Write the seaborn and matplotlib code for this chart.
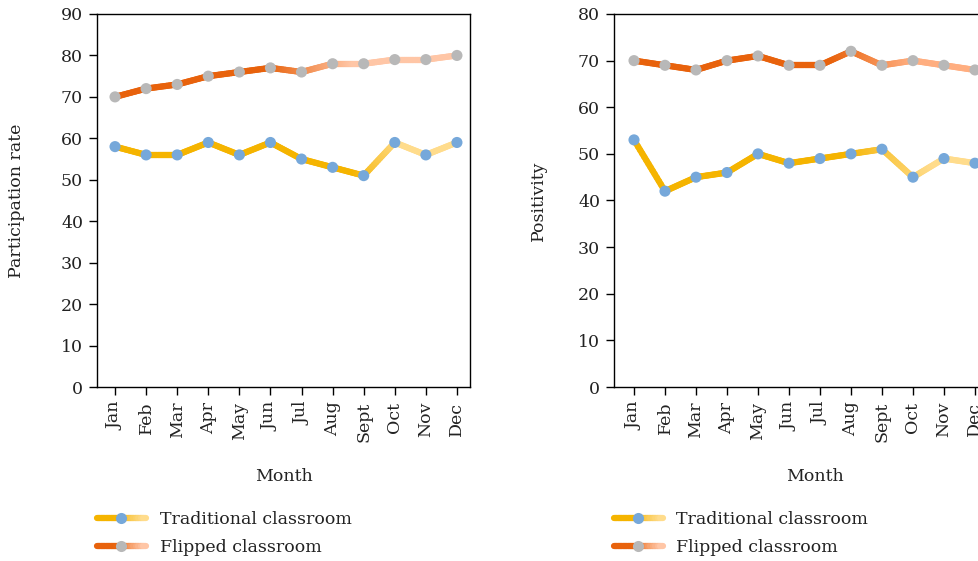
import numpy as np
import pandas as pd
import seaborn as sns
import matplotlib.pyplot as plt
from matplotlib.collections import LineCollection
from matplotlib.colors import to_rgb
from matplotlib.legend_handler import HandlerBase
from matplotlib.lines import Line2D

# data
months = ["Jan", "Feb", "Mar", "Apr", "May", "Jun", "Jul", "Aug", "Sept", "Oct", "Nov", "Dec"]
part_traditional = [58, 56, 56, 59, 56, 59, 55, 53, 51, 59, 56, 59]
part_flipped = [70, 72, 73, 75, 76, 77, 76, 78, 78, 79, 79, 80]
pos_traditional = [53, 42, 45, 46, 50, 48, 49, 50, 51, 45, 49, 48]
pos_flipped = [70, 69, 68, 70, 71, 69, 69, 72, 69, 70, 69, 68]
series_names = ["Traditional classroom", "Flipped classroom"]

TRAD = ("#F5B400", "#FFDC8C", "#76A8DA")
FLIP = ("#E8620C", "#FFC6A6", "#B8B8B8")
LW = 4.5
MS = 8
FS = 12.5


def mix(c0, c1, t):
    a, b = np.array(to_rgb(c0)), np.array(to_rgb(c1))
    return tuple(a + (b - a) * min(max(t, 0), 1))


def gradient_line(ax, x, y, c0, c1, t0, t1):
    # split the line into small pieces so the colour can fade along x
    segs, cols = [], []
    for i in range(len(x) - 1):
        xs = np.linspace(x[i], x[i + 1], 16)
        ys = np.linspace(y[i], y[i + 1], 16)
        for j in range(15):
            segs.append([(xs[j], ys[j]), (xs[j + 1], ys[j + 1])])
            t = ((xs[j] + xs[j + 1]) / 2 / (len(x) - 1) - t0) / (t1 - t0)
            cols.append(mix(c0, c1, t))
    lc = LineCollection(segs, colors=cols, linewidths=LW, capstyle="round", zorder=2)
    ax.add_collection(lc)


class GradHandler(HandlerBase):
    def __init__(self, c0, c1, mc):
        super().__init__()
        self.c0, self.c1, self.mc = c0, c1, mc

    def create_artists(self, legend, orig_handle, xdescent, ydescent, width, height, fontsize, trans):
        n = 20
        xs = np.linspace(0, width, n + 1) - xdescent
        yc = height / 2 - ydescent
        segs = [[(xs[i], yc), (xs[i + 1], yc)] for i in range(n)]
        cols = [mix(self.c0, self.c1, (i / (n - 1) - 0.4) / 0.6) for i in range(n)]
        lc = LineCollection(segs, colors=cols, linewidths=LW, capstyle="round", transform=trans)
        m = Line2D([width / 2 - xdescent], [yc], marker="o", markersize=MS, color=self.mc,
                   linestyle="", markeredgewidth=0, transform=trans)
        return [lc, m]


sns.set_style("ticks")
plt.rcParams["font.family"] = ["DejaVu Serif"]
plt.rcParams["axes.linewidth"] = 1.0
plt.rcParams["axes.edgecolor"] = "black"

fig = plt.figure(figsize=(9.79, 5.61), dpi=100)
W, H = 979, 561

panels = [
    dict(left=97, width=373, trad=part_traditional, flip=part_flipped, ylim=90, ylabel="Participation rate",
         xlim=(-0.58, 11.42), tg=(0.70, 0.84), fg=(0.45, 0.70), ylab_x=-0.193, xlab_x=0.5, flip_light="#FFC6A6"),
    dict(left=614, width=374, trad=pos_traditional, flip=pos_flipped, ylim=80, ylabel="Positivity",
         xlim=(-0.645, 11.42), tg=(0.62, 0.88), fg=(0.58, 0.82), ylab_x=-0.179, xlab_x=0.537, flip_light="#FFAE80"),
]

x = np.arange(len(months))
for p in panels:
    ax = fig.add_axes([p["left"] / W, (561 - 387) / H, p["width"] / W, 373 / H])
    df = pd.DataFrame({"x": np.concatenate([x, x]),
                       "value": p["trad"] + p["flip"],
                       "series": [series_names[0]] * 12 + [series_names[1]] * 12})
    gradient_line(ax, x, p["trad"], TRAD[0], TRAD[1], *p["tg"])
    gradient_line(ax, x, p["flip"], FLIP[0], p["flip_light"], *p["fg"])
    sns.scatterplot(data=df, x="x", y="value", hue="series", palette=[TRAD[2], FLIP[2]],
                    s=MS ** 2, linewidth=0, ax=ax, legend=False, zorder=3, clip_on=False)

    ax.set_xlim(*p["xlim"])
    ax.set_ylim(0, p["ylim"])
    ax.set_yticks(np.arange(0, p["ylim"] + 1, 10))
    ax.set_xticks(x)
    ax.set_xticklabels(months, rotation=90)
    ax.tick_params(axis="both", labelsize=FS, width=1, colors="black", labelcolor="#222222")
    ax.tick_params(axis="y", length=6, pad=4)
    ax.tick_params(axis="x", length=5.5, pad=5)
    for s in ax.spines.values():
        s.set_visible(True)
    ax.set_xlabel("Month", fontsize=FS, color="#222222")
    ax.set_ylabel(p["ylabel"], fontsize=FS, color="#222222")
    ax.xaxis.set_label_coords(p["xlab_x"], -0.218)
    ax.yaxis.set_label_coords(p["ylab_x"], 0.5)

    h1 = Line2D([], [])
    h2 = Line2D([], [])
    ax.legend([h1, h2], series_names,
              handler_map={h1: GradHandler(TRAD[0], TRAD[1], TRAD[2]),
                           h2: GradHandler(FLIP[0], FLIP[1], FLIP[2])},
              loc="center left", bbox_to_anchor=(p["left"] / W, 1 - 533.5 / H),
              bbox_transform=fig.transFigure, frameon=False, fontsize=FS,
              handlelength=2.8, handletextpad=0.8, labelspacing=0.63,
              borderpad=0, borderaxespad=0, labelcolor="#222222")

plt.savefig("out.png", dpi=100, facecolor="w")
